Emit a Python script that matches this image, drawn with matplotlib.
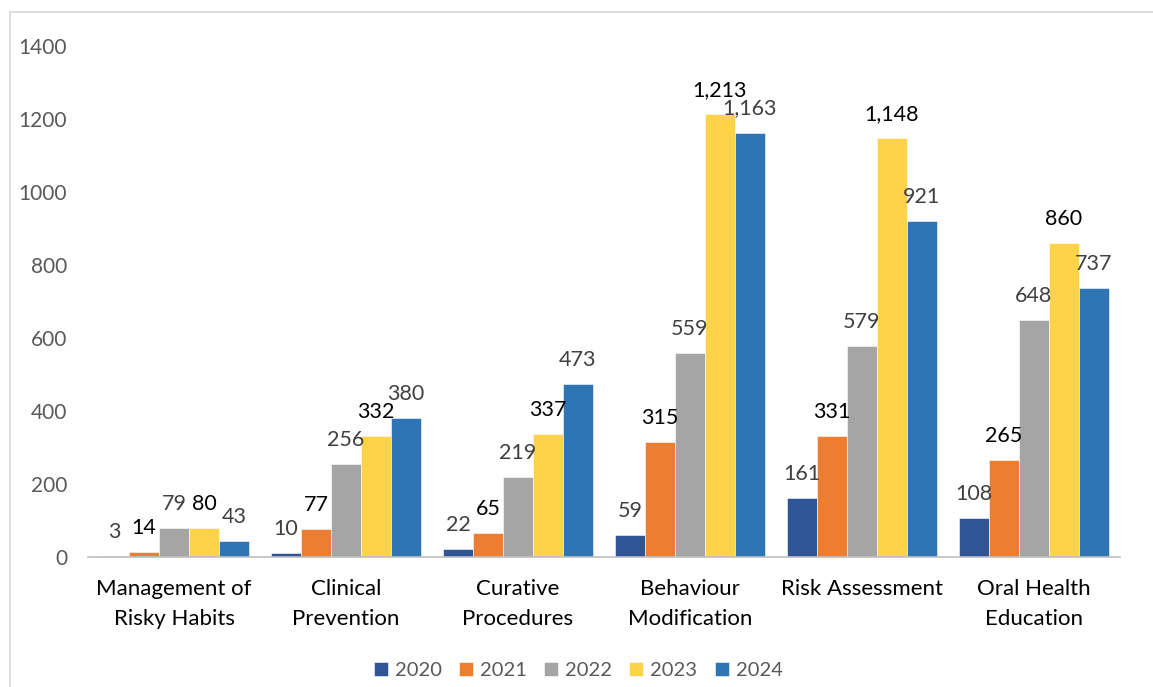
import numpy as np
import matplotlib
matplotlib.use("Agg")
import matplotlib.pyplot as plt
from matplotlib.patches import Rectangle

plt.rcParams["font.family"] = ["Lato", "DejaVu Sans"]

categories = ["Management of\nRisky Habits", "Clinical\nPrevention", "Curative\nProcedures",
              "Behaviour\nModification", "Risk Assessment", "Oral Health\nEducation"]
years = ["2020", "2021", "2022", "2023", "2024"]
v2020 = [3, 10, 22, 59, 161, 108]
v2021 = [14, 77, 65, 315, 331, 265]
v2022 = [79, 256, 219, 559, 579, 648]
v2023 = [80, 332, 337, 1213, 1148, 860]
v2024 = [43, 380, 473, 1163, 921, 737]
series = [v2020, v2021, v2022, v2023, v2024]

colors = ["#2F5597", "#ED7D31", "#A5A5A5", "#FFD347", "#2E75B6"]
label_colors = ["#404040", "#000000", "#404040", "#000000", "#404040"]

fig = plt.figure(figsize=(11.53, 6.87), dpi=100)
# chart border
fig.patches.append(Rectangle((10 / 1153, -0.01), 1.2, (687 - 12) / 687 + 0.01,
                             transform=fig.transFigure, fill=False,
                             edgecolor="#D9D9D9", linewidth=1.2))

ax = fig.add_axes([88 / 1153, 1 - 557 / 687, (1120 - 88) / 1153, (557 - 46) / 687])

x = np.arange(len(categories))
width = 0.174
for i, (vals, c, lc, yr) in enumerate(zip(series, colors, label_colors, years)):
    pos = x + (i - 2) * width
    ax.bar(pos, vals, width, color=c, label=yr, edgecolor="white", linewidth=0.4)
    for px, v in zip(pos, vals):
        ax.annotate(f"{v:,}", (px, v), xytext=(0, 13), textcoords="offset points",
                    ha="center", va="baseline", fontsize=15.5, color=lc)

ax.set_xlim(-0.5, len(categories) - 0.5)
ax.set_ylim(0, 1400)
ax.set_yticks(range(0, 1401, 200))
ax.set_xticks(x)
ax.set_xticklabels(categories, fontsize=16, color="#000000", linespacing=1.6)
ax.tick_params(axis="y", labelsize=15, labelcolor="#595959", length=0, pad=15)
ax.tick_params(axis="x", length=0, pad=16)
for s in ["top", "right", "left"]:
    ax.spines[s].set_visible(False)
ax.spines["bottom"].set_color("#BFBFBF")
ax.spines["bottom"].set_linewidth(1.2)

leg = ax.legend(loc="lower center", bbox_to_anchor=(0.475, -0.275), ncol=5, frameon=False,
                fontsize=14.5, handlelength=0.7, handleheight=0.7, handletextpad=0.35,
                columnspacing=0.85)
for t in leg.get_texts():
    t.set_color("#595959")

fig.savefig("out.png", dpi=100)
